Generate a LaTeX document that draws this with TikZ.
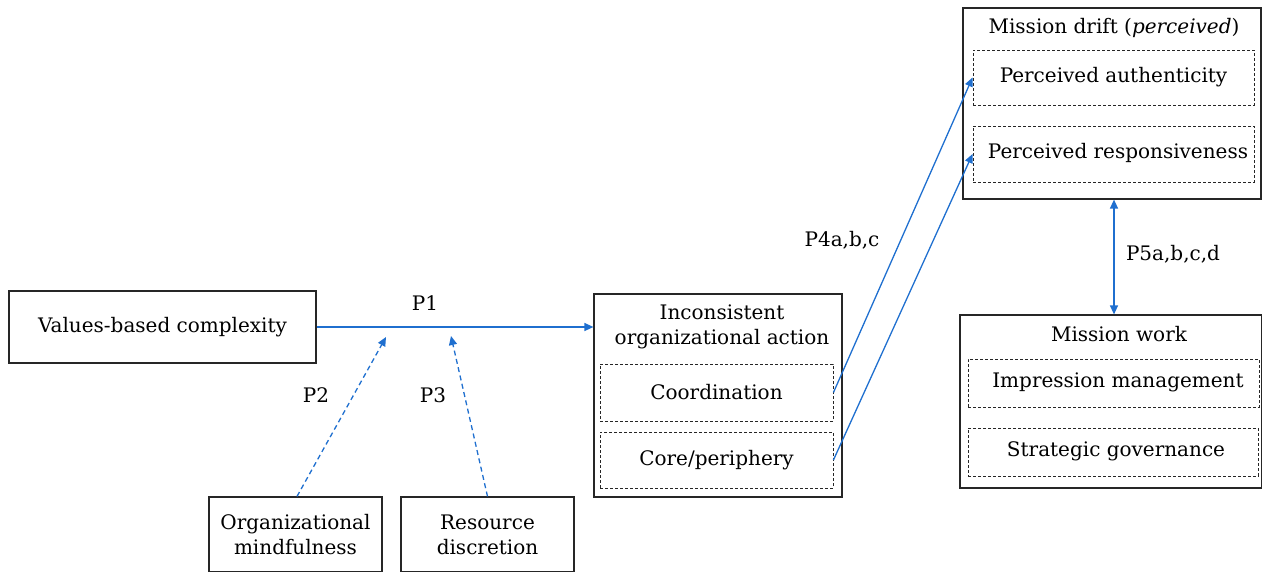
\documentclass[tikz,border=0pt]{standalone}
\usepackage{fontspec}
\setmainfont{DejaVu Serif}
\usetikzlibrary{arrows.meta}
\definecolor{arrowblue}{HTML}{1F6FCF}
\begin{document}
\begin{tikzpicture}[x=1pt,y=-1pt,
  txt/.style={font=\fontsize{20}{25}\selectfont},
  outerbox/.style={txt,draw=black!85,line width=1.2pt,rectangle,inner sep=0pt},
  innerbox/.style={txt,draw=black!85,dashed,dash pattern=on 3pt off 2pt,line width=0.9pt,rectangle,inner sep=0pt},
  lbl/.style={txt,inner sep=0pt},
  tip/.tip={Triangle[length=9pt,width=8pt]},
  conn/.style={draw=arrowblue,line width=1.3pt,-tip},
  dconn/.style={conn,dashed,dash pattern=on 5pt off 3.5pt}
]
\useasboundingbox (0,0) rectangle (1262,571);
% left box
\node[outerbox,minimum width=307pt,minimum height=72pt] (vbc) at (162.5,327) {Values-based complexity};
% inconsistent
\node[outerbox,minimum width=248pt,minimum height=203pt] (ioa) at (718,395.5) {};
\node[lbl,align=center] (ioat) at (722,326.5) {Inconsistent\\organizational action};
\node[innerbox,minimum width=233pt,minimum height=57pt] (coord) at (716.5,392.5) {Coordination};
\node[innerbox,minimum width=233pt,minimum height=56pt] (core) at (716.5,460) {Core/periphery};
% bottom boxes
\node[outerbox,minimum width=173pt,minimum height=75pt,align=center] (om) at (295.5,534.5) {Organizational\\mindfulness};
\node[outerbox,minimum width=173pt,minimum height=75pt,align=center] (rd) at (487.5,534.5) {Resource\\discretion};
% mission drift
\node[outerbox,minimum width=298pt,minimum height=191pt] (md) at (1112,103.5) {};
\node[lbl] (mdt) at (1114,28) {Mission drift (\textit{perceived})};
\node[innerbox,minimum width=281pt,minimum height=55pt] (pa) at (1113.5,77.5) {Perceived authenticity};
\node[innerbox,minimum width=281pt,minimum height=56pt] (pr) at (1113.5,154) {};
\node[lbl] (prt) at (1118,153) {Perceived responsiveness};
% mission work
\node[outerbox,minimum width=302pt,minimum height=173pt] (mw) at (1111,401.5) {};
\node[lbl] (mwt) at (1119,334) {Mission work};
\node[innerbox,minimum width=291pt,minimum height=48pt] (im) at (1113.5,383) {};
\node[lbl] (imt) at (1118,382) {Impression management};
\node[innerbox,minimum width=290pt,minimum height=48pt] (sg) at (1113,452) {};
\node[lbl] (sgt) at (1116,451) {Strategic governance};
% labels
\node[lbl] (p1) at (425,303) {P1};
\node[lbl] (p2) at (316,395) {P2};
\node[lbl] (p3) at (433,395) {P3};
\node[lbl] (p4) at (842,240) {P4a,b,c};
\node[lbl] (p5) at (1173,254) {P5a,b,c,d};
% connectors
\coordinate (m1) at (386,337);
\coordinate (m2) at (451,336);
\draw[conn] (vbc.east) -- (ioa.west |- vbc.east);
\draw[dconn] (om.north) ++(1.5,0) -- (m1);
\draw[dconn] (rd.north) -- (m2);
\draw[conn] (coord.east) -- (pa.west);
\draw[conn] (core.east) -- (pr.west);
\draw[conn,tip-tip] (md.south -| 1114,0) -- (mw.north -| 1114,0);
\end{tikzpicture}
\end{document}
